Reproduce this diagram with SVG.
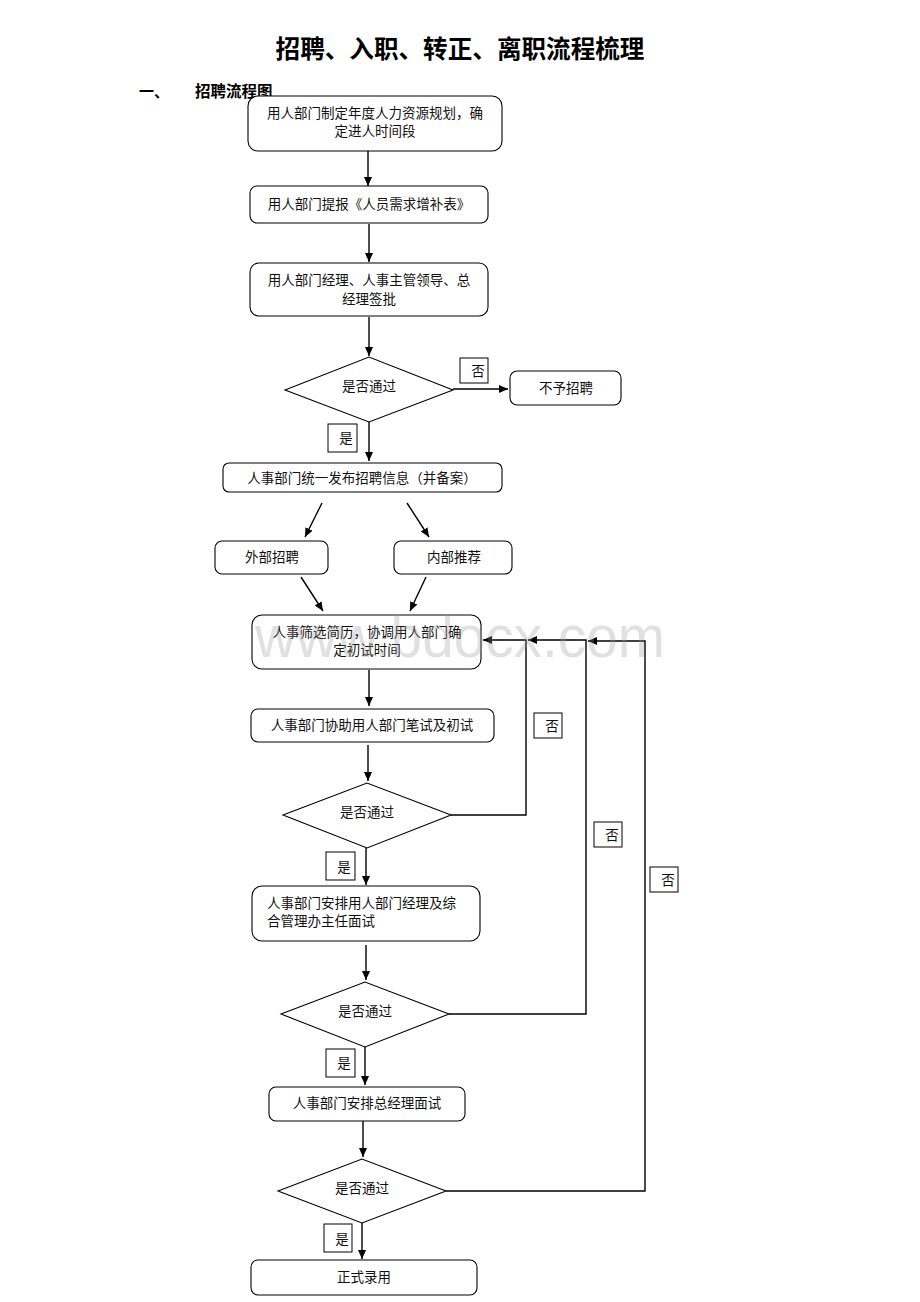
<svg xmlns="http://www.w3.org/2000/svg" width="920" height="1302" viewBox="0 0 920 1302">
<style>
  .box{fill:#fff;stroke:#000;stroke-width:1.1}
  .lbl{fill:#fff;stroke:#000;stroke-width:1}
  .t{font-family:"Noto Sans CJK SC","Noto Sans",sans-serif;font-size:13.5px;fill:#111}
  .c{text-anchor:middle}
  .ln{fill:none;stroke:#000;stroke-width:1.4}
  .lnk{fill:none;stroke:#000;stroke-width:1.4;marker-end:url(#ah)}
</style>
<defs>
  <marker id="ah" markerUnits="userSpaceOnUse" markerWidth="10" markerHeight="10" refX="9" refY="5" orient="auto">
    <path d="M0,1 L9,5 L0,9 z" fill="#000"/>
  </marker>
</defs>
<rect width="920" height="1302" fill="#fff"/>
<text x="460" y="58" text-anchor="middle" font-family="'Noto Sans CJK SC',sans-serif" font-size="24.6" font-weight="bold" fill="#000">招聘、入职、转正、离职流程梳理</text>
<text x="139" y="97" font-family="'Noto Sans CJK SC',sans-serif" font-size="15" font-weight="bold" fill="#000">一、</text>
<text x="195" y="97" font-family="'Noto Sans CJK SC',sans-serif" font-size="15.5" font-weight="bold" fill="#000">招聘流程图</text>

<g id="connectors">
  <line class="lnk" x1="368" y1="151" x2="368" y2="186"/>
  <line class="lnk" x1="369" y1="224" x2="369" y2="262"/>
  <line class="lnk" x1="369" y1="317" x2="369" y2="356"/>
  <line class="lnk" x1="453" y1="389" x2="508" y2="389"/>
  <line class="lnk" x1="369" y1="422" x2="369" y2="461"/>
  <line class="lnk" x1="322" y1="503" x2="305" y2="537"/>
  <line class="lnk" x1="407" y1="503" x2="429" y2="537"/>
  <line class="lnk" x1="301" y1="577" x2="323" y2="611"/>
  <line class="lnk" x1="426" y1="577" x2="410" y2="611"/>
  <line class="lnk" x1="369" y1="670" x2="369" y2="706"/>
  <line class="lnk" x1="368" y1="745" x2="368" y2="781"/>
  <polyline class="lnk" points="451,815 526,815 526,640 483,640"/>
  <line class="lnk" x1="366" y1="848" x2="366" y2="885"/>
  <line class="lnk" x1="366" y1="945" x2="366" y2="980"/>
  <polyline class="lnk" points="449,1014 586,1014 586,640 528,640"/>
  <line class="lnk" x1="365" y1="1047" x2="365" y2="1085"/>
  <line class="lnk" x1="363" y1="1121" x2="363" y2="1157"/>
  <polyline class="lnk" points="446,1191 645,1191 645,641 588,641"/>
  <line class="lnk" x1="362" y1="1223" x2="362" y2="1259"/>
</g>

<g id="n1"><rect class="box" x="248" y="96" width="254" height="55" rx="10"/>
  <text class="t c" x="375" y="118">用人部门制定年度人力资源规划，确</text>
  <text class="t c" x="375" y="136">定进人时间段</text></g>
<g id="n2"><rect class="box" x="250" y="186" width="238" height="37" rx="7"/>
  <text class="t c" x="369" y="209">用人部门提报《人员需求增补表》</text></g>
<g id="n3"><rect class="box" x="250" y="263" width="238" height="53" rx="9"/>
  <text class="t c" x="369" y="285">用人部门经理、人事主管领导、总</text>
  <text class="t c" x="369" y="304">经理签批</text></g>
<g id="d1"><polygon class="box" points="285,390 369,357 453,390 369,422"/>
  <text class="t c" x="369" y="391">是否通过</text></g>
<g id="l1"><rect class="lbl" x="460" y="358" width="28" height="25"/>
  <text class="t c" x="478" y="376">否</text></g>
<g id="n4"><rect class="box" x="510" y="371" width="111" height="34" rx="7"/>
  <text class="t c" x="566" y="393">不予招聘</text></g>
<g id="l2"><rect class="lbl" x="328" y="424" width="29" height="28"/>
  <text class="t c" x="346" y="443">是</text></g>
<g id="n5"><rect class="box" x="223" y="463" width="279" height="29" rx="6"/>
  <text class="t c" x="362" y="483">人事部门统一发布招聘信息（并备案）</text></g>
<g id="n6"><rect class="box" x="215" y="541" width="113" height="33" rx="7"/>
  <text class="t c" x="272" y="562">外部招聘</text></g>
<g id="n7"><rect class="box" x="394" y="541" width="118" height="33" rx="7"/>
  <text class="t c" x="454" y="562">内部推荐</text></g>
<g id="n8"><rect class="box" x="252" y="615" width="229" height="54" rx="10"/>
  <text class="t c" x="367" y="637">人事筛选简历，协调用人部门确</text>
  <text class="t c" x="367" y="655">定初试时间</text></g>
<g id="n9"><rect class="box" x="251" y="709" width="243" height="33" rx="7"/>
  <text class="t c" x="372" y="730">人事部门协助用人部门笔试及初试</text></g>
<g id="d2"><polygon class="box" points="283,815 367,783 451,815 367,848"/>
  <text class="t c" x="367" y="817">是否通过</text></g>
<g id="l3"><rect class="lbl" x="534" y="713" width="28" height="25"/>
  <text class="t c" x="552" y="731">否</text></g>
<g id="l4"><rect class="lbl" x="326" y="852" width="29" height="28"/>
  <text class="t c" x="344" y="872">是</text></g>
<g id="n10"><rect class="box" x="252" y="886" width="228" height="55" rx="10"/>
  <text class="t" x="267" y="908">人事部门安排用人部门经理及综</text>
  <text class="t" x="267" y="926">合管理办主任面试</text></g>
<g id="l5"><rect class="lbl" x="594" y="822" width="28" height="25"/>
  <text class="t c" x="612" y="840">否</text></g>
<g id="d3"><polygon class="box" points="281,1014 365,982 449,1014 365,1047"/>
  <text class="t c" x="365" y="1016">是否通过</text></g>
<g id="l6"><rect class="lbl" x="650" y="867" width="28" height="25"/>
  <text class="t c" x="668" y="885">否</text></g>
<g id="l7"><rect class="lbl" x="326" y="1049" width="29" height="28"/>
  <text class="t c" x="344" y="1068">是</text></g>
<g id="n11"><rect class="box" x="269" y="1087" width="196" height="34" rx="7"/>
  <text class="t c" x="367" y="1108">人事部门安排总经理面试</text></g>
<g id="d4"><polygon class="box" points="278,1191 362,1159 446,1191 362,1223"/>
  <text class="t c" x="362" y="1193">是否通过</text></g>
<g id="l8"><rect class="lbl" x="324" y="1224" width="28" height="28"/>
  <text class="t c" x="342" y="1244">是</text></g>
<g id="n12"><rect class="box" x="251" y="1260" width="226" height="35" rx="7"/>
  <text class="t c" x="364" y="1282">正式录用</text></g>

<text x="255" y="657" font-family="'Liberation Sans',Arial,sans-serif" font-size="60" textLength="410" lengthAdjust="spacingAndGlyphs" fill="#999" fill-opacity="0.3">www.bdocx.com</text>
</svg>
